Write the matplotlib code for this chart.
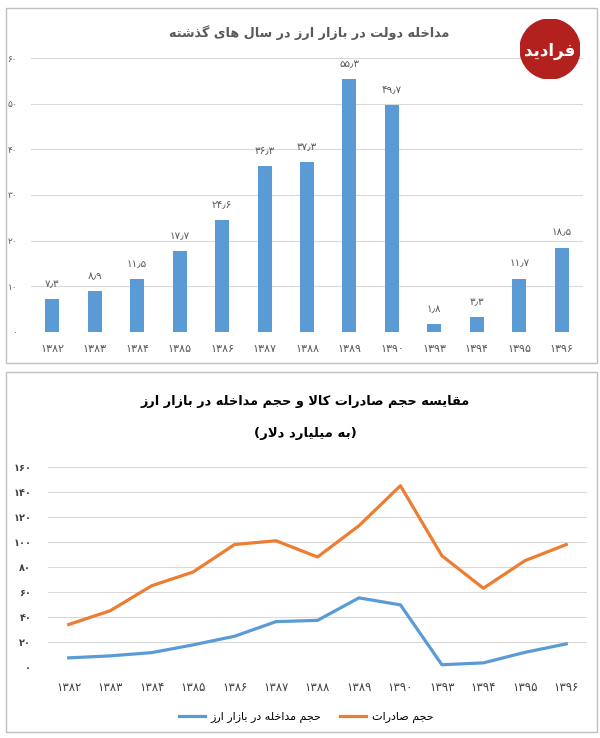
import matplotlib
matplotlib.use("Agg")
import matplotlib.pyplot as plt
from matplotlib.patches import Rectangle, Circle
from matplotlib.lines import Line2D

# data (billion dollars)
years = ["1382", "1383", "1384", "1385", "1386", "1387", "1388",
         "1389", "1390", "1393", "1394", "1395", "1396"]
intervention = [7.3, 8.9, 11.5, 17.7, 24.6, 36.3, 37.3, 55.3, 49.7, 1.8, 3.3, 11.7, 18.5]
exports = [34, 45, 65, 76, 98, 101, 88, 113, 145, 89, 63, 85, 98]
top_yticks = [0, 10, 20, 30, 40, 50, 60]
bottom_yticks = [0, 20, 40, 60, 80, 100, 120, 140, 160]

title_top = "مداخله دولت در بازار ارز در سال های گذشته"
title_bottom = "مقایسه حجم صادرات کالا و حجم مداخله در بازار ارز"
subtitle_bottom = "(به میلیارد دلار)"
legend_labels = ["حجم مداخله در بازار ارز", "حجم صادرات"]
logo_text = "فرادید"

BLUE = "#5B9BD5"
ORANGE = "#ED7D31"
GRID = "#D9D9D9"

# --- simple arabic/persian shaping, matplotlib has no bidi ---
FORMS = {  # isolated, final, initial, medial
    'ا': (0xFE8D, 0xFE8E, None, None), 'ب': (0xFE8F, 0xFE90, 0xFE91, 0xFE92),
    'ت': (0xFE95, 0xFE96, 0xFE97, 0xFE98), 'ث': (0xFE99, 0xFE9A, 0xFE9B, 0xFE9C),
    'ج': (0xFE9D, 0xFE9E, 0xFE9F, 0xFEA0), 'ح': (0xFEA1, 0xFEA2, 0xFEA3, 0xFEA4),
    'خ': (0xFEA5, 0xFEA6, 0xFEA7, 0xFEA8), 'د': (0xFEA9, 0xFEAA, None, None),
    'ذ': (0xFEAB, 0xFEAC, None, None), 'ر': (0xFEAD, 0xFEAE, None, None),
    'ز': (0xFEAF, 0xFEB0, None, None), 'س': (0xFEB1, 0xFEB2, 0xFEB3, 0xFEB4),
    'ش': (0xFEB5, 0xFEB6, 0xFEB7, 0xFEB8), 'ص': (0xFEB9, 0xFEBA, 0xFEBB, 0xFEBC),
    'ض': (0xFEBD, 0xFEBE, 0xFEBF, 0xFEC0), 'ط': (0xFEC1, 0xFEC2, 0xFEC3, 0xFEC4),
    'ظ': (0xFEC5, 0xFEC6, 0xFEC7, 0xFEC8), 'ع': (0xFEC9, 0xFECA, 0xFECB, 0xFECC),
    'غ': (0xFECD, 0xFECE, 0xFECF, 0xFED0), 'ف': (0xFED1, 0xFED2, 0xFED3, 0xFED4),
    'ق': (0xFED5, 0xFED6, 0xFED7, 0xFED8), 'ل': (0xFEDD, 0xFEDE, 0xFEDF, 0xFEE0),
    'م': (0xFEE1, 0xFEE2, 0xFEE3, 0xFEE4), 'ن': (0xFEE5, 0xFEE6, 0xFEE7, 0xFEE8),
    'ه': (0xFEE9, 0xFEEA, 0xFEEB, 0xFEEC), 'و': (0xFEED, 0xFEEE, None, None),
    'پ': (0xFB56, 0xFB57, 0xFB58, 0xFB59), 'چ': (0xFB7A, 0xFB7B, 0xFB7C, 0xFB7D),
    'ژ': (0xFB8A, 0xFB8B, None, None), 'ک': (0xFB8E, 0xFB8F, 0xFB90, 0xFB91),
    'گ': (0xFB92, 0xFB93, 0xFB94, 0xFB95), 'ی': (0xFBFC, 0xFBFD, 0xFBFE, 0xFBFF),
}


def shape(s):
    out = []
    i = 0
    while i < len(s):
        c = s[i]
        if c not in FORMS:
            out.append(c)
            i += 1
            continue
        prev = s[i - 1] if i > 0 else ""
        joins_prev = prev in FORMS and FORMS[prev][2] is not None
        if c == 'ل' and i + 1 < len(s) and s[i + 1] == 'ا':
            out.append(chr(0xFEFC if joins_prev else 0xFEFB))
            i += 2
            continue
        nxt = s[i + 1] if i + 1 < len(s) else ""
        joins_next = FORMS[c][2] is not None and nxt in FORMS
        iso, fin, ini, med = FORMS[c]
        if joins_prev and joins_next:
            code = med
        elif joins_prev:
            code = fin
        elif joins_next:
            code = ini
        else:
            code = iso
        out.append(chr(code))
        i += 1
    return out


def fa(s):
    vis = "".join(reversed(shape(s)))
    return vis.translate(str.maketrans("()", ")("))


def fd(x):
    return str(x).translate(str.maketrans("0123456789.", "۰۱۲۳۴۵۶۷۸۹٫"))


plt.rcParams['font.family'] = ['DejaVu Sans']

W, H = 600, 738
fig = plt.figure(figsize=(W / 100, H / 100), dpi=100)


def box(x0, y0, x1, y1):
    return [x0 / W, 1 - y1 / H, (x1 - x0) / W, (y1 - y0) / H]


# panel frames
for y0, y1 in [(8, 363), (372, 732)]:
    fig.patches.append(Rectangle((6 / W, 1 - y1 / H), (597 - 6) / W, (y1 - y0) / H,
                                 transform=fig.transFigure, fill=False,
                                 edgecolor="#BFBFBF", linewidth=1))

x = list(range(len(years)))

# ---- top: bar chart ----
ax1 = fig.add_axes(box(31, 58, 583, 332))
ax1.bar(x, intervention, width=0.33, color=BLUE, zorder=3)
for xi, v in zip(x, intervention):
    ax1.text(xi, v + 2.2, fd(v), ha="center", va="bottom", fontsize=7.5, color="#595959")
ax1.set_xlim(-0.5, len(years) - 0.5)
ax1.set_ylim(0, 60)
ax1.set_yticks(top_yticks)
ax1.set_yticklabels([fd(t) for t in top_yticks], fontsize=6.5, color="#595959")
ax1.set_xticks(x)
ax1.set_xticklabels([fd(y) for y in years], fontsize=8, color="#595959")
ax1.grid(axis="y", color=GRID, linewidth=0.8, zorder=0)
for sp in ax1.spines.values():
    sp.set_visible(False)
ax1.tick_params(length=0)
ax1.tick_params(axis="y", pad=10)
ax1.tick_params(axis="x", pad=9)
fig.text(309 / W, 1 - 33 / H, fa(title_top), ha="center", va="center",
         fontsize=9.2, fontweight="bold", color="#595959")

# logo
lax = fig.add_axes(box(520, 19, 580, 79))
lax.set_xlim(0, 1)
lax.set_ylim(0, 1)
lax.axis("off")
lax.add_patch(Circle((0.5, 0.5), 0.5, color="#B3211E"))
lax.text(0.5, 0.47, fa(logo_text), ha="center", va="center", fontsize=12,
         fontweight="bold", color="white")

# ---- bottom: line chart ----
ax2 = fig.add_axes(box(48, 467, 587, 667))
ax2.plot(x, intervention, color=BLUE, linewidth=2.3, zorder=3)
ax2.plot(x, exports, color=ORANGE, linewidth=2.3, zorder=3)
ax2.set_xlim(-0.5, len(years) - 0.5)
ax2.set_ylim(0, 160)
ax2.set_yticks(bottom_yticks)
ax2.set_yticklabels([fd(t) for t in bottom_yticks], fontsize=7, color="#404040",
                    fontweight="bold")
ax2.set_xticks(x)
ax2.set_xticklabels([fd(y) for y in years], fontsize=8.5, color="#404040")
ax2.grid(axis="y", color=GRID, linewidth=0.8, zorder=0)
for sp in ax2.spines.values():
    sp.set_visible(False)
ax2.tick_params(length=0)
ax2.tick_params(axis="y", pad=12)
ax2.tick_params(axis="x", pad=10)

fig.text(305 / W, 1 - 402 / H, fa(title_bottom), ha="center", va="center",
         fontsize=9.3, fontweight="bold", color="black")
fig.text(305 / W, 1 - 434 / H, fa(subtitle_bottom), ha="center", va="center",
         fontsize=9.5, fontweight="bold", color="black")

handles = [Line2D([], [], color=BLUE, linewidth=2.3),
           Line2D([], [], color=ORANGE, linewidth=2.3)]
fig.legend(handles, [fa(l) for l in legend_labels], loc="center",
           bbox_to_anchor=(306 / W, 1 - 717 / H), ncol=2, frameon=False,
           fontsize=8, handlelength=2.4, columnspacing=1.6, handletextpad=0.5)

fig.savefig("out.png", dpi=100)
